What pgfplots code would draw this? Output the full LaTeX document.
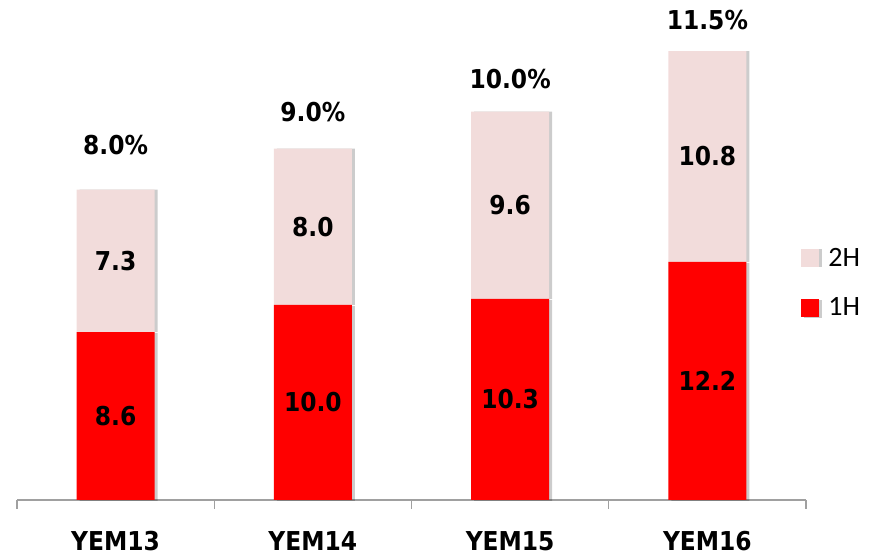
\documentclass[border=0pt]{standalone}
\usepackage{pgfplots}
\pgfplotsset{compat=1.18}
\usepackage{fontspec}
\setmainfont{DejaVu Sans Condensed}
\newfontfamily\legfont{Carlito}
\usetikzlibrary{shadows}
\definecolor{redA}{HTML}{FF0000}
\definecolor{pinkA}{HTML}{F2DCDB}
\definecolor{axgray}{HTML}{A0A0A0}
\pgfplotsset{
  common/.style={
    at={(17pt,56pt)}, anchor=south west,
    scale only axis, width=789pt, height=488pt,
    ymin=0, ymax=25, xmin=-0.5, xmax=3.5, clip=false,
  }
}
\begin{document}
\begin{tikzpicture}[x=1pt,y=1pt]
\useasboundingbox (0,0) rectangle (876,556);
\begin{axis}[
  common,
  ybar stacked, bar width=78pt,
  axis x line*=bottom, axis y line=none,
  x axis line style={draw=axgray, line width=1.3pt},
  xtick={0,1,2,3}, xticklabels={YEM13,YEM14,YEM15,YEM16},
  minor xtick={-0.5,0.5,1.5,2.5,3.5},
  major tick length=0pt, minor tick length=9pt, tick align=outside,
  minor tick style={draw=axgray, line width=1.3pt},
  xticklabel style={font=\fontsize{26}{26}\selectfont\bfseries, yshift=-28pt},
  legend style={at={(0.99,0.445)}, anchor=west, draw=none, fill=none,
    font=\legfont\fontsize{28}{28}\selectfont, row sep=26pt,
    legend cell align=left},
  reverse legend,
]
\addplot+[fill=redA, draw=none,
  drop shadow={shadow xshift=3pt, shadow yshift=-1pt, fill=black, opacity=0.2},
  legend image code/.code={\fill[redA] (0pt,-9pt) rectangle (18pt,9pt);}]
  coordinates {(0,8.6) (1,10.0) (2,10.3) (3,12.2)};
\addlegendentry{\hspace{7pt}1H}
\addplot+[fill=pinkA, draw=none,
  drop shadow={shadow xshift=3pt, shadow yshift=0pt, fill=black, opacity=0.2},
  legend image code/.code={\fill[pinkA] (0pt,-9pt) rectangle (18pt,9pt);}]
  coordinates {(0,7.3) (1,8.0) (2,9.6) (3,10.8)};
\addlegendentry{\hspace{7pt}2H}
\end{axis}
\begin{axis}[
  common, hide axis,
  every node near coord/.style={font=\fontsize{26}{26}\selectfont\bfseries, text=black, anchor=center},
]
% 1H value labels (middle of the 1H segment)
\addplot[draw=none, mark=none, nodes near coords, point meta=explicit symbolic]
  coordinates {(0,4.3) [8.6] (1,5.0) [10.0] (2,5.15) [10.3] (3,6.1) [12.2]};
% 2H value labels (middle of the 2H segment)
\addplot[draw=none, mark=none, nodes near coords, point meta=explicit symbolic]
  coordinates {(0,12.25) [7.3] (1,14.0) [8.0] (2,15.1) [9.6] (3,17.6) [10.8]};
% percentage labels above the bars
\addplot[draw=none, mark=none, nodes near coords, point meta=explicit symbolic]
  coordinates {(0,18.2) [8.0\%] (1,19.88) [9.0\%] (2,21.57) [10.0\%] (3,24.59) [11.5\%]};
\end{axis}
\end{tikzpicture}
\end{document}
